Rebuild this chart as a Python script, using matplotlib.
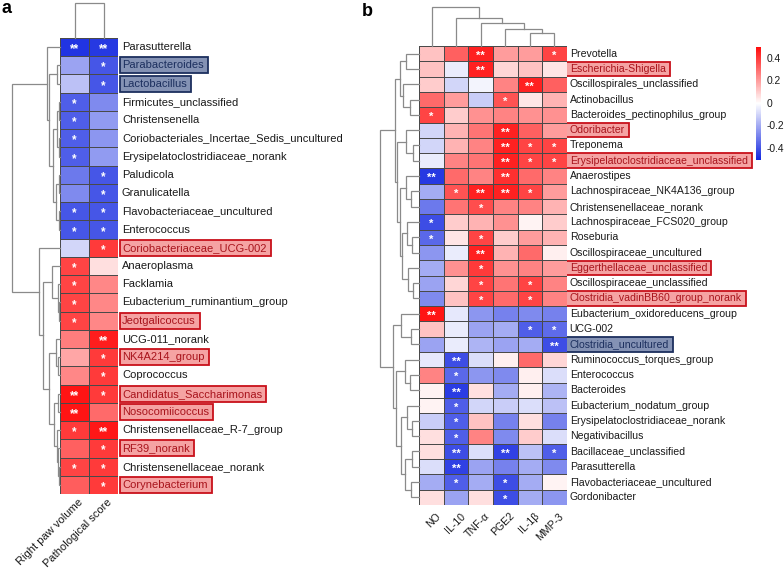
import matplotlib
matplotlib.use("Agg")
import matplotlib.pyplot as plt
import matplotlib.transforms as mtransforms
from matplotlib.colors import LinearSegmentedColormap
from matplotlib.patches import Rectangle
import numpy as np

plt.rcParams['font.family'] = ['Liberation Sans', 'DejaVu Sans']
plt.rcParams['axes.unicode_minus'] = False

W, H, DPI = 784, 575, 100

# ---------------- Panel a data ----------------
a_taxa = ["Parasutterella", "Parabacteroides", "Lactobacillus", "Firmicutes_unclassified",
          "Christensenella", "Coriobacteriales_Incertae_Sedis_uncultured",
          "Erysipelatoclostridiaceae_norank", "Paludicola", "Granulicatella",
          "Flavobacteriaceae_uncultured", "Enterococcus", "Coriobacteriaceae_UCG-002",
          "Anaeroplasma", "Facklamia", "Eubacterium_ruminantium_group", "Jeotgalicoccus",
          "UCG-011_norank", "NK4A214_group", "Coprococcus", "Candidatus_Saccharimonas",
          "Nosocomiicoccus", "Christensenellaceae_R-7_group", "RF39_norank",
          "Christensenellaceae_norank", "Corynebacterium"]
a_cols = ["Right paw volume", "Pathological score"]
a_right_paw_volume = [-0.48, -0.22, -0.15, -0.38, -0.38, -0.38, -0.38, -0.32, -0.28, -0.40, -0.40,
                      -0.10, 0.38, 0.38, 0.38, 0.38, 0.26, 0.18, 0.24, 0.48, 0.48, 0.40, 0.32, 0.38, 0.33]
a_pathological_score = [-0.47, -0.40, -0.40, -0.28, -0.24, -0.25, -0.24, -0.40, -0.40, -0.40, -0.40,
                        0.40, 0.06, 0.24, 0.24, 0.24, 0.46, 0.40, 0.40, 0.40, 0.30, 0.47, 0.40, 0.40, 0.40]
a_sig_right_paw = ["**", "", "", "*", "*", "*", "*", "", "", "*", "*",
                   "", "*", "*", "*", "*", "", "", "", "**", "**", "*", "", "*", ""]
a_sig_path = ["**", "*", "*", "", "", "", "", "*", "*", "*", "*",
              "*", "", "", "", "", "**", "*", "*", "*", "", "**", "*", "*", "*"]
a_red_boxes = ["Coriobacteriaceae_UCG-002", "Jeotgalicoccus", "NK4A214_group",
               "Candidatus_Saccharimonas", "Nosocomiicoccus", "RF39_norank", "Corynebacterium"]
a_blue_boxes = ["Parabacteroides", "Lactobacillus"]

# dendrogram trees: [left, right, merge height in px]
a_row_tree = [[0, [[1, 2, 2.7],
                   [[[3, 4, 1.2], [5, 6, 1.0], 3.0], [[7, 8, 1.5], [9, 10, 1.2], 4.5], 7.0], 11.0], 12.7],
              [11, [[12, [13, [14, 15, 1.0], 2.3], 8.3],
                    [[16, [17, 18, 2.0], 4.0],
                     [[19, 20, 1.7], [21, [22, [23, 24, 1.0], 2.3], 3.3], 5.7], 11.0], 16.7], 21.0],
              48.0]
a_col_tree = [0, 1, 35.0]

# ---------------- Panel b data ----------------
b_taxa = ["Prevotella", "Escherichia-Shigella", "Oscillospirales_unclassified", "Actinobacillus",
          "Bacteroides_pectinophilus_group", "Odoribacter", "Treponema",
          "Erysipelatoclostridiaceae_unclassified", "Anaerostipes", "Lachnospiraceae_NK4A136_group",
          "Christensenellaceae_norank", "Lachnospiraceae_FCS020_group", "Roseburia",
          "Oscillospiraceae_uncultured", "Eggerthellaceae_unclassified", "Oscillospiraceae_unclassified",
          "Clostridia_vadinBB60_group_norank", "Eubacterium_oxidoreducens_group", "UCG-002",
          "Clostridia_uncultured", "Ruminococcus_torques_group", "Enterococcus", "Bacteroides",
          "Eubacterium_nodatum_group", "Erysipelatoclostridiaceae_norank", "Negativibacillus",
          "Bacillaceae_unclassified", "Parasutterella", "Flavobacteriaceae_uncultured", "Gordonibacter"]
b_cols = ["NO", "IL-10", "TNF-α", "PGE2", "IL-1β", "MMP-3"]
b_NO = [0.12, 0.12, 0.10, 0.30, 0.38, -0.10, -0.10, -0.05, -0.47, -0.20, -0.32, -0.42, -0.36, -0.25, -0.20,
        -0.22, -0.28, 0.48, 0.12, -0.22, -0.06, 0.25, 0.02, 0.02, -0.12, 0.06, 0.06, -0.08, -0.20, 0.06]
b_IL10 = [0.32, -0.05, -0.10, 0.20, 0.10, 0.15, 0.15, 0.25, 0.30, 0.35, 0.28, 0.10, 0.05, -0.05, 0.22,
          0.08, 0.12, -0.06, -0.05, -0.05, -0.42, -0.36, -0.46, -0.38, -0.38, -0.38, -0.42, -0.45, -0.38, -0.22]
b_TNF = [0.45, 0.45, -0.03, -0.12, 0.22, 0.28, 0.25, 0.28, 0.25, 0.45, 0.36, 0.15, 0.38, 0.45, 0.40,
         0.38, 0.38, -0.25, -0.22, -0.18, -0.08, -0.25, 0.06, -0.10, 0.12, 0.25, -0.08, -0.22, -0.20, 0.06]
b_PGE2 = [0.20, 0.08, 0.25, 0.35, 0.25, 0.45, 0.45, 0.45, 0.42, 0.45, 0.25, 0.22, 0.10, 0.15, 0.22,
          0.28, 0.30, -0.30, -0.20, -0.22, 0.03, -0.28, -0.20, -0.12, -0.30, -0.28, -0.45, -0.30, -0.42, -0.42]
b_IL1b = [0.20, 0.12, 0.45, 0.05, 0.22, 0.32, 0.38, 0.38, 0.30, 0.38, 0.25, 0.02, 0.20, 0.30, 0.25,
          0.38, 0.38, -0.28, -0.38, -0.20, 0.30, 0.03, 0.03, -0.08, 0.06, 0.10, -0.15, -0.20, -0.20, -0.20]
b_MMP3 = [0.38, 0.05, 0.32, 0.15, 0.22, 0.20, 0.38, 0.38, 0.25, 0.20, 0.15, 0.10, 0.15, 0.03, 0.20,
          0.25, 0.25, -0.30, -0.35, -0.42, 0.08, -0.08, -0.18, -0.15, -0.30, -0.08, -0.38, -0.28, 0.02, -0.25]
b_sig_NO = ["", "", "", "", "*", "", "", "", "**", "", "", "*", "*", "", "",
            "", "", "**", "", "", "", "", "", "", "", "", "", "", "", ""]
b_sig_IL10 = ["", "", "", "", "", "", "", "", "", "*", "", "", "", "", "",
              "", "", "", "", "", "**", "*", "**", "*", "*", "*", "**", "**", "*", ""]
b_sig_TNF = ["**", "**", "", "", "", "", "", "", "", "**", "*", "", "*", "**", "*",
             "*", "*", "", "", "", "", "", "", "", "", "", "", "", "", ""]
b_sig_PGE2 = ["", "", "", "*", "", "**", "**", "**", "**", "**", "", "", "", "", "",
              "", "", "", "", "", "", "", "", "", "", "", "**", "", "*", "*"]
b_sig_IL1b = ["", "", "**", "", "", "", "*", "*", "", "*", "", "", "", "", "",
              "*", "*", "", "*", "", "", "", "", "", "", "", "", "", "", ""]
b_sig_MMP3 = ["*", "", "", "", "", "", "*", "*", "", "", "", "", "", "", "",
              "", "", "", "*", "**", "", "", "", "", "", "", "*", "", "", ""]
b_red_boxes = ["Escherichia-Shigella", "Odoribacter", "Erysipelatoclostridiaceae_unclassified",
               "Eggerthellaceae_unclassified", "Clostridia_vadinBB60_group_norank"]
b_blue_boxes = ["Clostridia_uncultured"]

b_row_tree = [[[[0, 1, 13.0], [2, [3, 4, 9.6], 16.3], 19.6],
               [[5, [6, 7, 6.0], 13.0],
                [[8, [9, 10, 8.0], 13.0],
                 [[11, [12, 13, 7.0], 12.0], [14, [15, 16, 6.0], 11.0], 17.0], 19.0], 22.0], 24.6],
              [[17, [18, 19, 8.0], 18.0],
               [[20, [21, 22, 9.0], 14.0],
                [[23, [24, 25, 7.0], 12.0], [[26, 27, 7.0], [28, 29, 8.0], 14.0], 18.0], 23.0], 26.3],
              39.6]
b_col_tree = [0, [1, [2, [3, [4, 5, 13.3], 16.7], 23.3], 27.7], 39.3]

cbar_ticks = [0.4, 0.2, 0, -0.2, -0.4]
cbar_labels = ["0.4", "0.2", "0", "-0.2", "-0.4"]
VMIN, VMAX = -0.51, 0.50

# ---------------- drawing ----------------
cmap = LinearSegmentedColormap.from_list("bwr2", ["#1428e0", "#ffffff", "#ff0a0a"])
DEND_COLOR = "#8a8a8a"

fig = plt.figure(figsize=(W / DPI, H / DPI), dpi=DPI)
fig.patch.set_facecolor("white")


def px_axes(x0, y0, x1, y1):
    ax = fig.add_axes([x0 / W, 1 - y1 / H, (x1 - x0) / W, (y1 - y0) / H])
    ax.set_axis_off()
    return ax


def draw_tree(ax, node, orient):
    if isinstance(node, int):
        return node + 0.5, 0.0
    l, r, h = node
    pl, hl = draw_tree(ax, l, orient)
    pr, hr = draw_tree(ax, r, orient)
    if orient == "row":
        xs, ys = [hl, h, h, hr], [pl, pl, pr, pr]
    else:
        xs, ys = [pl, pl, pr, pr], [hl, h, h, hr]
    ax.plot(xs, ys, color=DEND_COLOR, lw=0.9, clip_on=False, solid_joinstyle="miter")
    return (pl + pr) / 2, h


def heatmap(box, M, sig, taxa, cols, row_tree, col_tree, label_fs, lab_dx, tick_off,
            red_boxes, blue_boxes, star_fs):
    x0, y0, x1, y1 = box
    nrow, ncol = M.shape
    ax = px_axes(x0, y0, x1, y1)
    ax.pcolormesh(np.arange(ncol + 1), np.arange(nrow + 1), M, cmap=cmap, vmin=VMIN, vmax=VMAX,
                  edgecolors="#4a4a4a", linewidth=0.55)
    ax.set_xlim(0, ncol)
    ax.set_ylim(nrow, 0)
    star_tr = mtransforms.offset_copy(ax.transData, fig=fig, x=0, y=-2.2, units="dots")
    for i in range(nrow):
        for j in range(ncol):
            if sig[i][j]:
                ax.text(j + 0.5, i + 0.5, sig[i][j], color="white", fontsize=star_fs,
                        ha="center", va="center", transform=star_tr, fontweight="bold")
    lab_tr = mtransforms.offset_copy(ax.transData, fig=fig, x=lab_dx, y=0, units="dots")
    texts = []
    for i, name in enumerate(taxa):
        color = "#1a1a1a"
        if name in red_boxes:
            color = "#a8141c"
        elif name in blue_boxes:
            color = "#1c2f5e"
        t = ax.text(ncol, i + 0.5, name, fontsize=label_fs, ha="left", va="center",
                    color=color, transform=lab_tr, clip_on=False)
        texts.append((t, name))
    tick_tr = mtransforms.offset_copy(ax.transData, fig=fig, x=tick_off[0], y=-tick_off[1], units="dots")
    for j, c in enumerate(cols):
        ax.text(j + 0.5, nrow, c, fontsize=label_fs, rotation=45, ha="right", va="top",
                rotation_mode="anchor", transform=tick_tr, color="#1a1a1a", clip_on=False)
    # row dendrogram
    rmax = row_tree[2]
    axr = px_axes(x0 - rmax, y0, x0, y1)
    axr.set_xlim(rmax, 0)
    axr.set_ylim(nrow, 0)
    draw_tree(axr, row_tree, "row")
    # column dendrogram
    cmax = col_tree[2]
    axc = px_axes(x0, y0 - cmax, x1, y0)
    axc.set_xlim(0, ncol)
    axc.set_ylim(0, cmax)
    draw_tree(axc, col_tree, "col")
    return ax, texts


Ma = np.column_stack([a_right_paw_volume, a_pathological_score])
Sa = list(zip(a_sig_right_paw, a_sig_path))
axa, texts_a = heatmap((60, 38, 118, 494), Ma, Sa, a_taxa, a_cols, a_row_tree, a_col_tree,
                       8.0, 4, (3, 3), a_red_boxes, a_blue_boxes, 8.5)

Mb = np.column_stack([b_NO, b_IL10, b_TNF, b_PGE2, b_IL1b, b_MMP3])
Sb = list(zip(b_sig_NO, b_sig_IL10, b_sig_TNF, b_sig_PGE2, b_sig_IL1b, b_sig_MMP3))
axb, texts_b = heatmap((419.3, 46, 566.7, 505), Mb, Sb, b_taxa, b_cols, b_row_tree, b_col_tree,
                       7.6, 3, (4, 6), b_red_boxes, b_blue_boxes, 8.0)

# colorbar
cax = fig.add_axes([755.7 / W, 1 - 160 / H, 5.5 / W, 113.3 / H])
sm = matplotlib.cm.ScalarMappable(cmap=cmap, norm=matplotlib.colors.Normalize(VMIN, VMAX))
cb = fig.colorbar(sm, cax=cax, ticks=cbar_ticks)
cb.outline.set_visible(False)
cb.ax.set_yticklabels(cbar_labels)
cb.ax.tick_params(length=0, pad=4, labelsize=7.4, labelcolor="#1a1a1a")

# panel letters
fig.text(1 / W, 1 - 0 / H, "a", fontsize=13, fontweight="bold", va="top", ha="left")
fig.text(362 / W, 1 - 3 / H, "b", fontsize=13, fontweight="bold", va="top", ha="left")

# highlight boxes around labels
fig.canvas.draw()
renderer = fig.canvas.get_renderer()


def add_boxes(texts, red_boxes, blue_boxes, box_left, row_h):
    for t, name in texts:
        if name not in red_boxes and name not in blue_boxes:
            continue
        bb = t.get_window_extent(renderer)
        cy = (bb.y0 + bb.y1) / 2
        x0 = box_left
        x1 = bb.x1 + 4
        y0 = cy - row_h / 2
        if name in red_boxes:
            fc, ec = "#f5a3a3", "#c8101a"
        else:
            fc, ec = "#8492b4", "#1c2f5e"
        rect = Rectangle((x0 / W, y0 / H), (x1 - x0) / W, row_h / H, transform=fig.transFigure,
                         facecolor=fc, edgecolor=ec, linewidth=1.3, zorder=-1)
        fig.add_artist(rect)


add_boxes(texts_a, a_red_boxes, a_blue_boxes, 119.5, 16.0)
add_boxes(texts_b, b_red_boxes, b_blue_boxes, 565.5, 14.5)

fig.savefig("out.png", dpi=DPI, facecolor="white")
